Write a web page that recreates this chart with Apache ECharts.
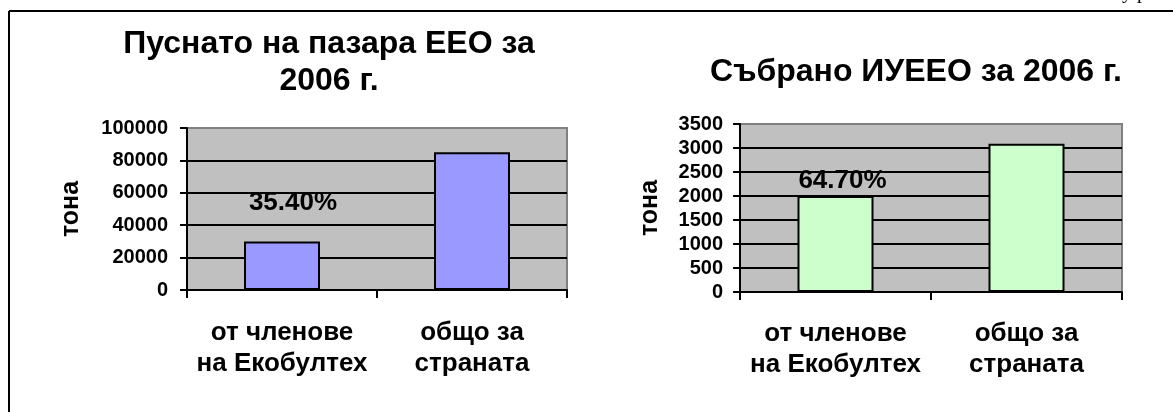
<!DOCTYPE html>
<html>
<head>
<meta charset="utf-8">
<script src="https://cdn.jsdelivr.net/npm/echarts@6/dist/echarts.min.js"></script>
<style>
  html, body { margin: 0; padding: 0; background: #fff; }
</style>
</head>
<body>
<div id="main" style="width: 1173px; height: 412px"></div>
<script>
// данни, прочетени от графиките
const categories = ['от членове\nна Екобултех', 'общо за\nстраната']
const placedOnMarket = [30000, 85000]   // тона, пуснато на пазара
const collected = [2000, 3090]          // тона, събрано ИУЕЕО
const shareLabels = ['35.40%', '64.70%']
const leftTicks = { min: 0, max: 100000, interval: 20000 }
const rightTicks = { min: 0, max: 3500, interval: 500 }

const font = 'Liberation Sans, Arial, sans-serif'

function barData(values, label, offset, distance) {
  return values.map(function(v, i) {
    if (i !== 0) return v
    return {
      value: v,
      label: {
        show: true,
        position: 'top',
        distance: distance,
        offset: offset,
        formatter: label,
        fontFamily: font,
        fontWeight: 'bold',
        fontSize: 26,
        color: '#000'
      }
    }
  })
}

function yAxis(idx, ticks, gap, margin) {
  // черни линии, горната (рамката) е сива
  var n = Math.round((ticks.max - ticks.min) / ticks.interval) + 1
  var colors = []
  for (var i = 0; i < n; i++) colors.push(i === n - 1 ? '#808080' : '#000')
  return {
    type: 'value',
    gridIndex: idx,
    min: ticks.min,
    max: ticks.max,
    interval: ticks.interval,
    name: 'тона',
    nameLocation: 'middle',
    nameGap: gap,
    nameTextStyle: { fontFamily: font, fontWeight: 'bold', fontSize: 25, color: '#000' },
    axisLine: { show: true, lineStyle: { color: '#000', width: 2 } },
    axisTick: { show: true, length: 7, lineStyle: { color: '#000', width: 2 } },
    axisLabel: {
      margin: margin, fontFamily: font, fontWeight: 'bold', fontSize: 20, color: '#000',
      formatter: function(v) { return String(v) }
    },
    splitLine: { lineStyle: { color: colors, width: 2 } }
  }
}

function xAxis(idx, margin) {
  return {
    type: 'category',
    gridIndex: idx,
    data: categories,
    axisLine: { lineStyle: { color: '#000', width: 2 } },
    axisTick: { show: true, length: 8, lineStyle: { color: '#000', width: 2 } },
    axisLabel: { margin: margin, interval: 0, fontFamily: font, fontWeight: 'bold', fontSize: 26, lineHeight: 31, color: '#000' }
  }
}

var myChart = echarts.init(document.getElementById('main'))
var option = {
  animation: false,
  title: [
    {
      text: 'Пуснато на пазара ЕЕО за\n2006 г.',
      left: 329, top: 26, padding: 0, textAlign: 'center',
      textStyle: { fontFamily: font, fontWeight: 'bold', fontSize: 32, lineHeight: 37, color: '#000' }
    },
    {
      text: 'Събрано ИУЕЕО за 2006 г.',
      left: 916, top: 54, padding: 0, textAlign: 'center',
      textStyle: { fontFamily: font, fontWeight: 'bold', fontSize: 32, lineHeight: 37, color: '#000' }
    }
  ],
  grid: [
    { left: 187, top: 128, width: 380, height: 162, show: true, backgroundColor: '#c0c0c0', borderColor: '#808080', borderWidth: 2 },
    { left: 740, top: 124, width: 382, height: 168, show: true, backgroundColor: '#c0c0c0', borderColor: '#808080', borderWidth: 2 }
  ],
  xAxis: [xAxis(0, 27), xAxis(1, 26)],
  yAxis: [yAxis(0, leftTicks, 103, 19), yAxis(1, rightTicks, 77, 17)],
  series: [
    {
      type: 'bar',
      xAxisIndex: 0,
      yAxisIndex: 0,
      barWidth: 76,
      itemStyle: { color: '#9999ff', borderColor: '#000', borderWidth: 2 },
      data: barData(placedOnMarket, shareLabels[0], [11, 0], 26)
    },
    {
      type: 'bar',
      xAxisIndex: 1,
      yAxisIndex: 1,
      barWidth: 76,
      itemStyle: { color: '#ccffcc', borderColor: '#000', borderWidth: 2 },
      data: barData(collected, shareLabels[1], [7, 0], 2)
    }
  ],
  graphic: [
    // рамка на страницата
    { type: 'line', shape: { x1: 9, y1: 11, x2: 1173, y2: 11 }, style: { stroke: '#000', lineWidth: 2 } },
    { type: 'line', shape: { x1: 9, y1: 11, x2: 9, y2: 412 }, style: { stroke: '#000', lineWidth: 2 } },
    // отрязан текст от горния колонтитул
    { type: 'text', x: 1122, y: 3, style: { text: 'у р', font: '20px Liberation Serif', fill: '#000', textVerticalAlign: 'bottom' } }
  ]
}
myChart.setOption(option)
</script>
</body>
</html>
